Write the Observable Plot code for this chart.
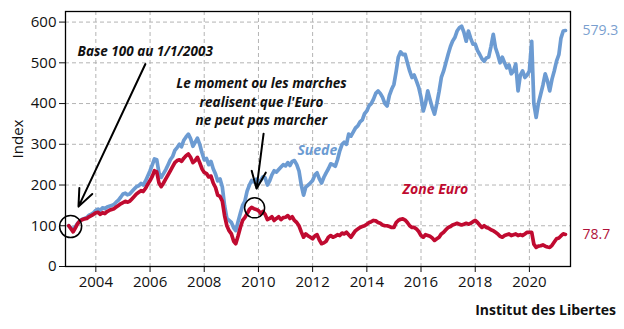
<!DOCTYPE html>
<html><head><meta charset="utf-8">
<script src="https://cdn.jsdelivr.net/npm/d3@7"></script>
<script src="https://cdn.jsdelivr.net/npm/@observablehq/plot@0.6"></script>
<style>
body{margin:0;background:#fff;font-family:"Open Sans",sans-serif;}
#caption{width:616px;text-align:right;font-weight:bold;font-size:14px;line-height:28px;color:#111;}
</style></head><body><div id="chart"></div><div id="caption">Institut des Libertes</div>
<script>
// Monthly index values, Jan 2003 .. May 2021 (base 100 on 1/1/2003)
const startYear = 2003;
const suede = [
 100, 95, 92, 98,106,112,116,118,120,126,128,132,
 138,141,138,144,142,146,148,150,152,158,163,170,
 178,180,176,178,184,190,196,198,204,200,210,222,
 235,250,264,262,230,219,228,238,250,262,270,285,
 292,300,294,310,318,325,314,295,305,315,300,280,
 262,265,250,258,240,227,210,215,195,150,118,113,
 108, 95, 88,110,130,150,160,185,200,211,208,214,
 206,212,220,218,200,210,225,235,232,238,244,250,
 247,255,248,258,260,250,235,200,175,195,200,205,
 211,225,230,215,205,219,230,240,252,250,246,262,
 284,300,305,300,325,320,330,340,345,355,360,375,
 382,395,400,411,425,431,425,415,400,394,420,435,
 447,480,514,527,520,521,500,480,464,470,455,440,
 415,382,400,431,410,390,374,400,430,464,480,500,
 521,540,553,562,578,586,590,575,553,578,560,546,
 546,530,521,510,504,512,514,540,570,537,520,500,
 514,500,488,495,473,480,497,431,470,480,464,470,
 480,553,400,366,400,423,445,473,455,431,460,480,
 504,520,560,578,579.3
];
const zoneEuro = [
 100, 92, 85, 95,105,112,115,117,118,122,125,128,
 132,133,128,132,130,135,138,140,142,146,150,154,
 157,160,158,160,166,172,178,182,186,184,192,202,
 211,222,235,232,205,196,205,215,225,235,245,255,
 260,262,258,266,272,276,268,255,260,268,255,240,
 231,228,220,222,205,194,175,172,160,125,100, 88,
  80, 62, 56, 75, 95,113,120,130,140,145,142,140,
 137,130,135,128,115,118,122,113,118,122,115,120,
 121,125,118,122,113,108,100, 85, 72, 80, 75, 72,
  68, 75, 78, 65, 56, 58, 62, 72, 76, 72, 74, 78,
  76, 82, 80, 84, 78, 72, 80, 88, 92, 96, 98,100,
 104,108,110,113,112,108,106,102,100,100, 98, 96,
  96,108,113,116,117,114,108,100, 96, 96, 92, 86,
  76, 72, 78, 76, 74, 70, 64, 68, 72, 80, 84, 90,
  96, 98,102,104,106,104,102,104,106,104,106,110,
 113,108,102, 96,100, 96, 94, 90, 88, 84, 80, 74,
  72, 76, 78, 80, 76, 78, 80, 76, 78, 76, 80, 84,
  84, 84, 55, 47, 50, 51, 53, 50, 48, 47, 52, 60,
  68, 70, 75, 80, 78.7
];
const yTicks = [0, 100, 200, 300, 400, 500, 600];
const xTickYears = [2004, 2006, 2008, 2010, 2012, 2014, 2016, 2018, 2020];
const seriesNames = ["Suede", "Zone Euro"];

const blue = "#6c9bd2", red = "#c00a30";
const monthDate = i => new Date(Date.UTC(startYear, i, 1));
const suedeRows = suede.map((v, i) => ({date: monthDate(i), value: v}));
const euroRows = zoneEuro.map((v, i) => ({date: monthDate(i), value: v}));
const xTicks = xTickYears.map(y => new Date(Date.UTC(y, 0, 1)));
const D = s => new Date(s);

// annotations (data coordinates)
const notes = [
  {date: D("2005-10-27"), value: 531, text: "Base 100 au 1/1/2003"},
  {date: D("2010-02-10"), value: 407, text: "Le moment ou les marches\nrealisent que l'Euro\nne peut pas marcher"}
];
const arrows = [
  {x1: D("2005-10-30"), y1: 497, x2: D("2003-05-12"), y2: 147},
  {x1: D("2010-03-11"), y1: 326, x2: D("2009-12-06"), y2: 191}
];
const circles = [
  {date: D("2003-01-26"), value: 98, r: 11},
  {date: D("2009-11-10"), value: 144, r: 10}
];
const seriesLabels = [
  {date: D("2011-06-10"), value: 284, text: seriesNames[0], color: blue},
  {date: D("2015-04-27"), value: 189, text: seriesNames[1], color: red}
];
const endLabels = [
  {...suedeRows[suedeRows.length - 1], color: "#7a9fcf"},
  {...euroRows[euroRows.length - 1], color: "#b0123a"}
];

const chart = Plot.plot({
  width: 624, height: 296,
  marginLeft: 65, marginRight: 54, marginTop: 11, marginBottom: 30,
  style: {fontFamily: "Open Sans", fontSize: "15px", color: "#111", background: "#fff"},
  x: {type: "utc", domain: [D("2002-11-18"), D("2021-07-08")]},
  y: {domain: [0, 626]},
  r: {type: "identity"},
  marks: [
    Plot.gridY(yTicks, {stroke: "#b4b4b4", strokeOpacity: 1, strokeDasharray: "4,3"}),
    Plot.gridX(xTicks, {stroke: "#b4b4b4", strokeOpacity: 1, strokeDasharray: "4,3"}),
    Plot.axisY(yTicks, {tickSize: 6, tickPadding: 3, label: "Index", labelAnchor: "center", labelOffset: 53, labelArrow: "none", fontSize: 15}),
    Plot.axisX(xTicks, {tickSize: 6, tickPadding: 4, tickFormat: "%Y", label: null, fontSize: 15}),
    Plot.frame({stroke: "#000", strokeWidth: 1.3}),
    Plot.line(suedeRows, {x: "date", y: "value", stroke: blue, strokeWidth: 3.7, strokeLinejoin: "round"}),
    Plot.line(euroRows, {x: "date", y: "value", stroke: red, strokeWidth: 3.7, strokeLinejoin: "round"}),
    Plot.dot(circles, {x: "date", y: "value", r: "r", stroke: "#000", strokeWidth: 1.5, fill: "none"}),
    Plot.arrow(arrows, {x1: "x1", y1: "y1", x2: "x2", y2: "y2", stroke: "#000", strokeWidth: 2, headLength: 14, headAngle: 45}),
    Plot.text(notes, {x: "date", y: "value", text: "text", fontSize: 13.5, fontWeight: "bold", fontStyle: "italic", fill: "#111", lineHeight: 1.35}),
    Plot.text(seriesLabels, {x: "date", y: "value", text: "text", fill: "color", fontSize: 14, fontWeight: "bold", fontStyle: "italic", textAnchor: "start"}),
    Plot.text(endLabels, {x: "date", y: "value", text: d => String(d.value), fill: "color", fontSize: 14, textAnchor: "start", dx: 17})
  ]
});
document.getElementById("chart").append(chart);
</script></body></html>
